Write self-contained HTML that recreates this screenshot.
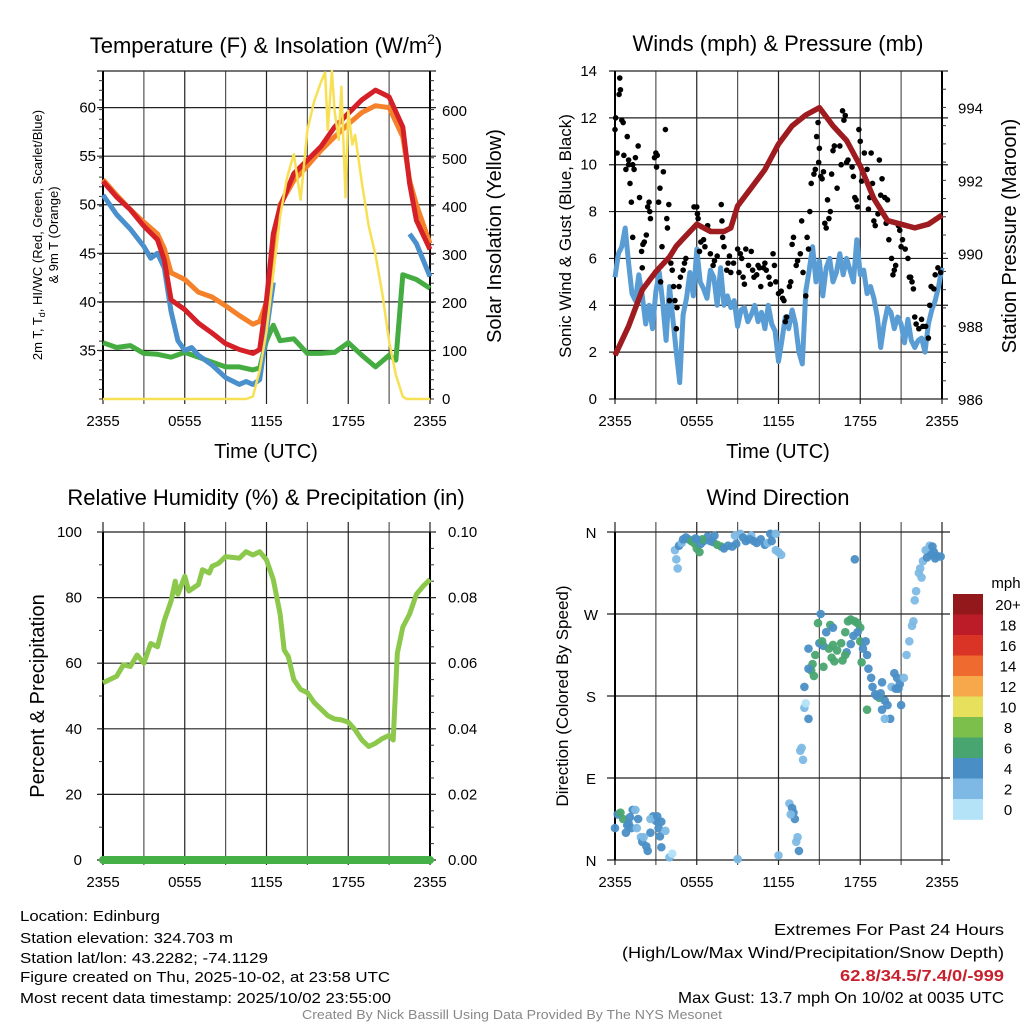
<!DOCTYPE html>
<html><head><meta charset="utf-8">
<style>
html,body{margin:0;padding:0;background:#fff;}
svg{display:block;font-family:"Liberation Sans",sans-serif;}
</style></head>
<body>
<svg id="root" width="1024" height="1024" viewBox="0 0 1024 1024"></svg>
<script>
// ---------- DATA ----------
var tempHours = [0,1,2,3,4,4.5,5,6,7,8,9,10,11,11.5,12,12.5,13,14,15,16,17,18,19,20,21,22,22.5,23,24];
var tempRed = [52.4,50.8,49.5,47.8,46.4,44.3,40.2,39.2,37.8,36.8,35.7,35.1,34.7,35.1,40.2,47,49.8,53.2,54.6,56,58,59.4,60.8,61.8,61.1,58,52.2,48.4,45.4];
var tempOrange = [52.6,51,49.5,48.2,47,45.5,43,42.3,41,40.5,39.6,38.6,37.7,38,40,45,50,52.5,54,55.6,57,58.3,59.5,60.2,60,57,52.5,50,46];
var blueHours = [0,1,2,3,3.5,4,4.5,5,5.5,6,6.5,7,8,9,10,10.5,11,11.5,12,12.5,12.6,22.4,22.5,23,24];
var tempBlue = [51,49,47.5,45.7,44.5,45,43.5,39,36,35,35.3,34.5,33.5,32.2,31.5,31.8,31.5,32,37,42,null,null,47,46,42.6];
var greenHours = [0,1,2,3,4,5,6,7,8,9,10,11,11.5,12,12.5,13,14,15,16,17,18,19,20,21,21.5,22,23,24];
var tempGreen = [35.8,35.3,35.5,34.7,34.6,34.3,34.8,34.3,33.8,33.3,33.3,33,33.2,36,37.6,36,36.2,34.7,34.7,34.8,35.8,34.5,33.3,34.5,34,42.8,42.3,41.4];
var solarHours = [0,10.5,11,11.5,12,12.5,13,13.5,14,14.5,15,15.5,16,16.3,16.5,16.8,17,17.3,17.5,17.8,18,18.3,18.5,19,19.5,20,20.5,21,21.5,22,22.3,24];
var solar = [0,0,5,60,140,260,380,460,510,415,560,620,660,680,560,683,600,540,650,420,600,530,550,450,360,300,220,120,50,5,0,0];

var presHours = [0,1,2,3,4,4.5,5,6,7,8,8.5,9,10,11,12,13,14,15,16,17,18,19,20,21,22,23,24];
var pressure = [987.2,988.0,989.0,989.5,989.9,990.2,990.4,990.8,990.6,990.6,990.7,991.3,991.8,992.3,993.0,993.5,993.8,994.0,993.5,993.1,992.4,991.5,990.9,990.8,990.7,990.8,991.05];
var windHours = [0,0.25,0.5,0.75,1,1.25,1.5,1.75,2,2.25,2.5,2.75,3,3.25,3.5,3.75,4,4.25,4.5,4.75,5,5.25,5.5,5.75,6,6.25,6.5,6.75,7,7.25,7.5,7.75,8,8.25,8.5,8.75,9,9.25,9.5,9.75,10,10.25,10.5,10.75,11,11.25,11.5,11.75,12,12.25,12.5,12.75,13,13.25,13.5,13.75,14,14.25,14.5,14.75,15,15.25,15.5,15.75,16,16.25,16.5,16.75,17,17.25,17.5,17.75,18,18.25,18.5,18.75,19,19.25,19.5,19.75,20,20.25,20.5,20.75,21,21.25,21.5,21.75,22,22.25,22.5,22.75,23,23.25,23.5,23.75,24];
var windSpeed = [5.2,6.2,6.5,7.3,5.8,4.5,4.2,5.3,4.4,3.2,4.0,3.0,4.6,5.4,4.1,2.5,4.8,3.4,2.0,0.7,3.6,4.3,5.4,4.4,6.4,5.0,4.7,4.3,5.5,5.2,4.0,5.6,4.0,4.4,3.9,4.2,3.1,3.8,3.9,3.3,3.6,4.0,3.3,3.7,3.0,4.0,3.2,2.9,1.6,2.5,3.5,3.0,3.8,3.2,2.0,1.5,4.6,5.5,6.5,5.0,5.9,4.4,5.6,6.0,5.0,5.4,6.2,5.3,6.0,5.5,5.0,6.8,5.3,5.5,4.5,4.8,4.3,3.5,2.2,3.2,3.9,3.7,3.0,3.5,3.2,2.4,3.4,2.5,2.2,2.5,2.6,2.0,3.2,3.8,4.2,4.8,5.6];
var gustHours = [0.0,0.05,0.15,0.3,0.35,0.4,0.5,0.6,0.65,0.8,0.9,1.0,1.0,1.1,1.2,1.3,1.4,1.5,1.7,1.8,1.3,1.95,2.05,2.0,2.15,2.3,2.4,2.5,2.55,2.6,2.9,3.0,3.05,3.1,3.2,3.3,3.35,3.45,3.55,3.7,3.8,3.85,3.95,4.1,4.2,4.0,4.3,4.55,4.4,4.5,4.7,4.8,5.0,5.1,5.2,5.8,6.0,6.05,6.1,6.2,6.3,6.5,6.6,6.8,6.9,7.0,7.2,7.3,7.5,7.8,7.85,7.9,8.0,8.2,8.3,8.4,8.5,8.7,9.0,9.1,9.2,9.3,9.4,9.5,9.6,9.8,10.0,10.1,10.2,10.4,10.5,10.6,10.7,10.9,11.0,11.1,11.3,11.4,11.6,11.7,11.8,12.0,12.2,12.3,12.4,12.5,12.6,12.8,12.9,13.0,13.1,13.3,13.4,13.6,13.7,13.8,14.0,14.1,14.2,14.3,14.4,14.6,14.7,14.8,14.9,14.95,15.0,15.1,15.2,15.3,15.4,15.5,15.6,15.7,15.8,15.9,16.0,16.1,16.3,16.5,16.6,16.7,16.8,16.9,17.0,17.1,17.5,17.4,17.6,17.7,17.8,17.9,18.0,18.1,18.3,18.5,18.6,18.7,18.8,18.9,19.0,19.1,19.3,19.4,19.5,19.6,19.8,19.9,20.0,20.1,20.3,20.4,20.5,20.6,20.8,20.9,21.0,21.1,21.3,21.5,21.6,21.7,21.8,21.9,22.0,22.1,22.3,22.5,22.6,22.8,23.0,23.1,23.2,23.4,23.5,23.7,23.9];
var gustValues = [11.5,12.0,10.5,13.0,13.7,13.2,11.9,11.8,10.4,9.8,11.2,10.2,10.0,9.2,8.4,10.0,9.8,10.3,10.8,8.6,6.9,6.3,6.6,5.6,6.7,7.0,8.2,8.4,8.0,7.7,10.3,10.5,9.9,10.4,8.4,9.0,5.0,6.5,9.7,11.5,7.7,7.3,8.3,5.8,5.5,4.2,4.8,3.9,4.2,3.0,4.8,5.2,5.5,5.8,6.0,8.2,8.2,7.9,7.7,6.3,6.7,6.8,6.5,7.4,7.2,6.2,5.7,5.9,6.1,8.3,7.6,6.9,6.5,5.5,5.8,6.1,5.4,5.8,6.4,5.4,6.2,6.0,5.2,4.9,6.4,5.7,6.3,5.5,5.2,5.3,5.7,5.6,4.8,5.6,5.8,5.5,5.2,4.9,6.2,5.7,5.0,4.5,4.6,4.3,4.2,3.3,3.5,4.8,5.0,6.6,6.9,5.7,5.9,6.2,7.6,5.4,4.4,6.9,6.4,8.0,9.2,9.6,9.8,11.2,11.8,10.1,10.7,9.5,9.4,9.7,7.5,7.3,8.5,7.7,8.0,9.6,10.6,10.8,9.0,10.8,10.0,12.3,11.9,12.1,10.1,10.2,9.5,9.9,8.6,8.5,8.2,11.5,11.0,9.3,10.5,9.8,8.1,8.6,10.5,9.2,7.6,7.4,7.9,10.2,8.7,9.4,8.6,7.5,8.5,6.8,6.0,5.3,5.5,5.7,7.4,7.2,6.5,6.8,6.4,6.0,5.2,5.2,5.0,4.7,3.5,3.2,3.0,3.4,3.1,3.1,2.6,4.0,4.8,4.7,5.3,5.6,5.4,6.0,6.2];

var rhHours = [0,1,1.5,2,2.5,3,3.5,4,4.5,5,5.3,5.5,6,6.3,7,7.3,7.8,8,8.5,9,10,10.5,11,11.5,12,12.5,13,13.3,13.6,14,14.5,15,15.5,16,16.5,17,17.5,18,18.5,19,19.5,20,20.5,21,21.3,21.6,22,22.5,23,23.5,24];
var rh = [54,56,59.5,59,62.5,60,66,65,73,79,85,81,86.5,82,84,88.5,87.5,89.5,90.5,92.5,92,94,93,94,91.5,85.5,75,64,62,55,52,51,48,46,44,43,42.7,42,39.7,36.6,34.6,35.6,37,38,36.6,63,71,75,81,83.5,85.5];
var precipHours = [0,24];
var precip = [0,0];

var dirHours = [0,0.2,0.4,0.6,1,1.1,1.3,1.5,1.2,0.8,0.9,1.6,1.9,2,2.3,2.4,2.6,2.8,3,3.2,3.3,3.4,3.7,3.4,4,4.2,1.7,2.1,2.6,3.1,
 4.5,4.4,4.6,4.7,4.9,5,5.2,5.4,5.6,5.8,6,6.2,5.9,6.5,6.8,7,7.2,7.5,7.8,8,8.3,8.6,8.9,9.2,9.4,9.6,9.8,10,10.2,10.4,10.7,11,11.2,11.5,11.8,12,12.2,11.4,11.8,6.3,7.3,8.8,9.9,6.4,6,9,12,
 12.8,13,13.1,13.2,12.9,13.3,13.4,13.5,13.6,13.7,13.8,13.9,14,14.2,13.9,14.2,
 14.4,14.5,14.7,14.9,15.1,15,15.3,15.5,15.8,16,15.7,15.9,16.1,16.3,16.6,16.9,17.1,17.3,17.6,17.8,18,18,17.5,17.3,17,16.7,16.9,18.1,18.4,18.5,18.6,18.8,18.9,19.1,19.4,19.2,19.6,19.8,20,20.3,20.5,20.7,20.9,21.2,20.2,19.6,19.8,20.6,18.5,17.6,14.2,14.6,15.3,16,15.2,17.8,18.2,19.5,20.8,21,
 21.4,21.6,21.8,21.9,22,22.1,22.3,22.4,22.6,22.8,23,23.2,23.4,23.6,23.9,22.5,22.9,23.1,23.3,23.5];
var dirDegrees = [35,50,52,45,40,47,55,55,35,30,38,35,25,20,15,10,30,48,43,35,26,42,32,14,3,7,45,25,45,48,
 330,340,320,345,348,352,354,352,350,348,342,338,353,350,355,350,349,346,344,342,345,344,347,358,354,350,352,356,350,348,352,346,348,350,340,338,335,358,358,347,356,356,352,352,352,1,5,
 62,57,52,45,50,20,25,10,120,123,110,167,172,155,190,232,
 208,215,225,260,270,238,235,250,258,255,232,222,218,230,238,250,262,264,262,260,255,240,246,237,228,219,225,217,240,225,210,200,190,182,178,180,195,175,170,190,205,200,193,200,155,165,155,188,165,330,210,202,212,236,240,250,232,183,188,170,
 225,240,257,262,285,295,315,320,328,340,340,335,338,334,333,310,332,345,344,331];
var dirSpeedClass = [4,4,6,6,4,4,4,2,4,4,4,2,2,4,4,4,4,4,4,4,4,4,2,4,2,0,4,2,2,4,
 2,2,2,4,2,4,4,4,6,6,6,6,4,4,4,4,4,6,6,4,4,4,4,2,4,4,4,2,4,4,4,4,2,4,2,2,2,4,2,4,4,2,4,6,4,2,2,
 2,4,4,4,2,2,2,4,2,2,2,2,0,4,4,4,
 6,6,6,6,4,4,4,4,6,4,6,6,6,6,6,6,6,6,6,6,6,6,4,4,4,6,6,6,4,4,4,4,4,4,6,4,4,4,4,2,4,4,4,2,4,4,2,4,6,4,4,6,6,6,6,4,4,4,4,4,
 2,2,2,2,2,2,2,2,2,2,2,4,4,4,4,2,4,2,4,4];
var cbLabels = ["20+","18","16","14","12","10","8","6","4","2","0"];
var cbColors = ["#92181c","#bb1c27","#da3427","#ee6a2e","#f6a84b","#e7e05c","#7cc04b","#49a56f","#4a8ec6","#7db9e4","#b4e3f8"];
var timeTicks = ["2355","0555","1155","1755","2355"];

// ---------- HELPERS ----------
var NS = "http://www.w3.org/2000/svg";
var root = document.getElementById("root");
function mk(tag, attrs, name, parent) {
  var el = document.createElementNS(NS, tag);
  for (var k in attrs) el.setAttribute(k, attrs[k]);
  
  
  (parent || root).appendChild(el);
  return el;
}
function txt(x, y, s, size, anchor, name, extra) {
  var a = {x: x, y: y, "font-size": size, "text-anchor": anchor || "middle", fill: "#000"};
  if (extra) for (var k in extra) a[k] = extra[k];
  var t = mk("text", a, name);
  t.textContent = s;
  return t;
}
function vtxt(x, y, s, size, name) {
  return txt(x, y, s, size, "middle", name, {transform: "rotate(-90 " + x + " " + y + ")"});
}
function linear(d0, d1, r0, r1) { return function (v) { return r0 + (v - d0) / (d1 - d0) * (r1 - r0); }; }
function pathFrom(xs, ys, fx, fy) {
  var d = "", pen = false;
  for (var i = 0; i < xs.length; i++) {
    if (ys[i] === null) { pen = false; continue; }
    d += (pen ? "L" : "M") + fx(xs[i]).toFixed(1) + " " + fy(ys[i]).toFixed(1);
    pen = true;
  }
  return d;
}
function frame(p, name, opts) {
  var g = mk("g", {}, name + "-grid");
  for (var i = 0; i <= 8; i++) {
    var x = p.x0 + i * (p.x1 - p.x0) / 8;
    mk("line", {x1: x, x2: x, y1: p.yT - (opts.vext || 0), y2: p.yB + 5, stroke: (i % 2 ? "#555" : "#222"), "stroke-width": 1.2}, "vertical-gridline", g);
  }
  opts.hgrid.forEach(function (y) {
    mk("line", {x1: p.x0 - (opts.hl || 6), x2: p.x1 + (opts.hr || 6), y1: y, y2: y, stroke: "#222", "stroke-width": 1.2}, "horizontal-gridline", g);
  });
  mk("line", {x1: p.x0, x2: p.x0, y1: p.yT, y2: p.yB, stroke: "#000", "stroke-width": 2}, "left-axis-line", g);
  if (opts.rightAxis) mk("line", {x1: p.x1, x2: p.x1, y1: p.yT, y2: p.yB, stroke: "#000", "stroke-width": 2}, "right-axis-line", g);
  for (var j = 0; j < 5; j++) {
    var xx = p.x0 + j * (p.x1 - p.x0) / 4;
    txt(xx, p.yB + 27, timeTicks[j], 15, "middle", "x-tick-label");
  }
}
function minorTicks(x, y0, y1, n, dir, name) {
  for (var i = 0; i <= n; i++) {
    var y = y0 + i * (y1 - y0) / n;
    mk("line", {x1: x, x2: x + dir * 4, y1: y, y2: y, stroke: "#333", "stroke-width": 1}, name);
  }
}

// ---------- PANEL 1: Temperature ----------
var P1 = {x0: 103, x1: 430, yT: 71, yB: 399};
var x1f = linear(0, 24, P1.x0, P1.x1);
var yT = linear(30, 63.77, P1.yB, P1.yT);
var yS = linear(0, 683, P1.yB, P1.yT);
var hg1 = [35, 40, 45, 50, 55, 60].map(yT); hg1.push(P1.yT);
frame(P1, "temp", {hgrid: hg1, rightAxis: true});
minorTicks(P1.x0, P1.yB, P1.yT, 34, -1, "left-minor-tick");
minorTicks(P1.x1, P1.yB, P1.yT, 34, 1, "right-minor-tick");
[35, 40, 45, 50, 55, 60].forEach(function (v) { txt(P1.x0 - 7, yT(v) + 5, String(v), 15, "end", "left-y-tick-label"); });
[0, 100, 200, 300, 400, 500, 600].forEach(function (v) { txt(P1.x1 + 12, yS(v) + 5, String(v), 15, "start", "right-y-tick-label"); });
mk("path", {d: pathFrom(tempHours, tempOrange, x1f, yT), fill: "none", stroke: "#f5822a", "stroke-width": 5, "stroke-linejoin": "round"}, "orange-9m-temp-line");
mk("path", {d: pathFrom(greenHours, tempGreen, x1f, yT), fill: "none", stroke: "#44ac40", "stroke-width": 5, "stroke-linejoin": "round"}, "green-dewpoint-line");
mk("path", {d: pathFrom(blueHours, tempBlue, x1f, yT), fill: "none", stroke: "#4a90cc", "stroke-width": 5, "stroke-linejoin": "round"}, "blue-windchill-line");
mk("path", {d: pathFrom(tempHours, tempRed, x1f, yT), fill: "none", stroke: "#d42026", "stroke-width": 5, "stroke-linejoin": "round"}, "red-2m-temp-line");
mk("path", {d: pathFrom(solarHours, solar, x1f, yS), fill: "none", stroke: "#f8e054", "stroke-width": 2.5, "stroke-linejoin": "round"}, "yellow-solar-line");
var t1 = txt(266, 53, "Temperature (F) & Insolation (W/m", 22, "middle", "temp-panel-title");
var sup = document.createElementNS(NS, "tspan"); sup.setAttribute("font-size", 14); sup.setAttribute("dy", -9); sup.textContent = "2";


t1.appendChild(sup);
var t1b = document.createElementNS(NS, "tspan"); t1b.setAttribute("dy", 9); t1b.textContent = ")";


t1.appendChild(t1b);
var yl = vtxt(42, 235, "2m T, T", 13, "temp-y-axis-title");
var sub = document.createElementNS(NS, "tspan"); sub.setAttribute("font-size", 9); sub.setAttribute("dy", 3); sub.textContent = "d";


yl.appendChild(sub);
var yl2 = document.createElementNS(NS, "tspan"); yl2.setAttribute("dy", -3); yl2.textContent = ", HI/WC (Red, Green, Scarlet/Blue)";


yl.appendChild(yl2);
vtxt(58, 235, "& 9m T (Orange)", 13, "temp-y-axis-title-line2");
vtxt(501, 236, "Solar Insolation (Yellow)", 20, "solar-y-axis-title");
txt(266, 458, "Time (UTC)", 20, "middle", "temp-x-axis-title");

// ---------- PANEL 2: Winds ----------
var P2 = {x0: 615, x1: 942, yT: 71, yB: 399};
var x2f = linear(0, 24, P2.x0, P2.x1);
var yW = linear(0, 14, P2.yB, P2.yT);
var yP = linear(986, 994, P2.yB, 107.7);
frame(P2, "wind", {hgrid: [0, 2, 4, 6, 8, 10, 12, 14].map(yW), rightAxis: true});
minorTicks(P2.x1, P2.yB, 71, 18, 1, "right-minor-tick");
[0, 2, 4, 6, 8, 10, 12, 14].forEach(function (v) { txt(P2.x0 - 18, yW(v) + 5, String(v), 15, "end", "left-y-tick-label"); });
[986, 988, 990, 992, 994].forEach(function (v) { txt(P2.x1 + 16, yP(v) + 6, String(v), 15, "start", "right-y-tick-label"); });
mk("path", {d: pathFrom(windHours, windSpeed, x2f, yW), fill: "none", stroke: "#5a9dd4", "stroke-width": 5, "stroke-linejoin": "round"}, "blue-sonic-wind-line");
var gg = mk("g", {}, "gust-points");
for (var i = 0; i < gustHours.length; i++) {
  mk("circle", {cx: x2f(gustHours[i]), cy: yW(gustValues[i]), r: 2.8, fill: "#000"}, "gust-point", gg);
}
mk("path", {d: pathFrom(presHours, pressure, x2f, yP), fill: "none", stroke: "#9e1b1f", "stroke-width": 5.5, "stroke-linejoin": "round"}, "maroon-pressure-line");
txt(778, 51, "Winds (mph) & Pressure (mb)", 22, "middle", "wind-panel-title");
vtxt(571, 236, "Sonic Wind & Gust (Blue, Black)", 17, "wind-y-axis-title");
vtxt(1016, 236, "Station Pressure (Maroon)", 20, "pressure-y-axis-title");
txt(778, 458, "Time (UTC)", 20, "middle", "wind-x-axis-title");

// ---------- PANEL 3: RH ----------
var P3 = {x0: 103, x1: 430, yT: 532, yB: 860};
var x3f = linear(0, 24, P3.x0, P3.x1);
var yR = linear(0, 100, P3.yB, P3.yT);
var yPr = linear(0, 0.1, P3.yB, P3.yT);
frame(P3, "rh", {hgrid: [0, 20, 40, 60, 80, 100].map(yR), rightAxis: true, vext: 10});
minorTicks(P3.x0, P3.yB, P3.yT, 10, -1, "left-minor-tick");
minorTicks(P3.x1, P3.yB, P3.yT, 20, 1, "right-minor-tick");
[0, 20, 40, 60, 80, 100].forEach(function (v) { txt(P3.x0 - 21, yR(v) + 5, String(v), 15, "end", "left-y-tick-label"); });
["0.00", "0.02", "0.04", "0.06", "0.08", "0.10"].forEach(function (s) { txt(P3.x1 + 18, yPr(parseFloat(s)) + 5, s, 15, "start", "right-y-tick-label"); });
mk("path", {d: pathFrom(rhHours, rh, x3f, yR), fill: "none", stroke: "#8cc84b", "stroke-width": 5, "stroke-linejoin": "round"}, "rh-line");
mk("path", {d: pathFrom(precipHours, precip, x3f, yPr), fill: "none", stroke: "#45b046", "stroke-width": 8, "stroke-linecap": "round"}, "precip-line");
txt(266, 505, "Relative Humidity (%) & Precipitation (in)", 22, "middle", "rh-panel-title");
vtxt(44, 696, "Percent & Precipitation", 20, "rh-y-axis-title");

// ---------- PANEL 4: Wind Direction ----------
var P4 = {x0: 615, x1: 942, yT: 532, yB: 860};
var x4f = linear(0, 24, P4.x0, P4.x1);
var yD = linear(0, 360, P4.yB, P4.yT);
frame(P4, "dir", {hgrid: [0, 90, 180, 270, 360].map(yD), vext: 10, hl: 8, hr: 8});
["N", "E", "S", "W", "N"].forEach(function (s, i) { txt(591, yD(i * 90) + 6, s, 15, "middle", "direction-tick-label"); });
var dg = mk("g", {}, "direction-points");
for (var j = 0; j < dirHours.length; j++) {
  var ci = 10 - dirSpeedClass[j] / 2;
  mk("circle", {cx: x4f(dirHours[j]), cy: yD(dirDegrees[j]), r: 4.3, fill: cbColors[ci], "fill-opacity": 0.95}, "direction-point", dg);
}
txt(778, 505, "Wind Direction", 22, "middle", "direction-panel-title");
vtxt(568, 696, "Direction (Colored By Speed)", 17, "direction-y-axis-title");
var cbTop = 594, cbH = 20.5;
txt(1006, 588, "mph", 15, "middle", "colorbar-unit-label");
for (var k = 0; k < cbLabels.length; k++) {
  mk("rect", {x: 953, y: cbTop + k * cbH, width: 30, height: cbH + 0.3, fill: cbColors[k]}, "colorbar-swatch");
  txt(1008, cbTop + k * cbH + cbH / 2 + 5.5, cbLabels[k], 15, "middle", "colorbar-label");
}

// ---------- FOOTER ----------
var left = [["Location: Edinburg",140],["Station elevation: 324.703 m",213],["Station lat/lon: 43.2282; -74.1129",248],["Figure created on Thu, 2025-10-02, at 23:58 UTC",370],["Most recent data timestamp: 2025/10/02 23:55:00",371]];
var ly = [921, 943, 963, 982, 1003];
left.forEach(function (l, i) { txt(20, ly[i], l[0], 15, "start", "station-info-line", {textLength: l[1], lengthAdjust: "spacingAndGlyphs"}); });
txt(1004, 935, "Extremes For Past 24 Hours", 16, "end", "extremes-title", {textLength: 230, lengthAdjust: "spacingAndGlyphs"});
txt(1004, 958, "(High/Low/Max Wind/Precipitation/Snow Depth)", 16, "end", "extremes-subtitle", {textLength: 382, lengthAdjust: "spacingAndGlyphs"});
txt(1004, 981, "62.8/34.5/7.4/0/-999", 16, "end", "extremes-values", {fill: "#c8202c", "font-weight": "bold", textLength: 164, lengthAdjust: "spacingAndGlyphs"});
txt(1004, 1003, "Max Gust: 13.7 mph On 10/02 at 0035 UTC", 16, "end", "max-gust-line", {textLength: 326, lengthAdjust: "spacingAndGlyphs"});
txt(512, 1019, "Created By Nick Bassill Using Data Provided By The NYS Mesonet", 13, "middle", "credit-line", {fill: "#888", textLength: 420, lengthAdjust: "spacingAndGlyphs"});
</script>
</body></html>
